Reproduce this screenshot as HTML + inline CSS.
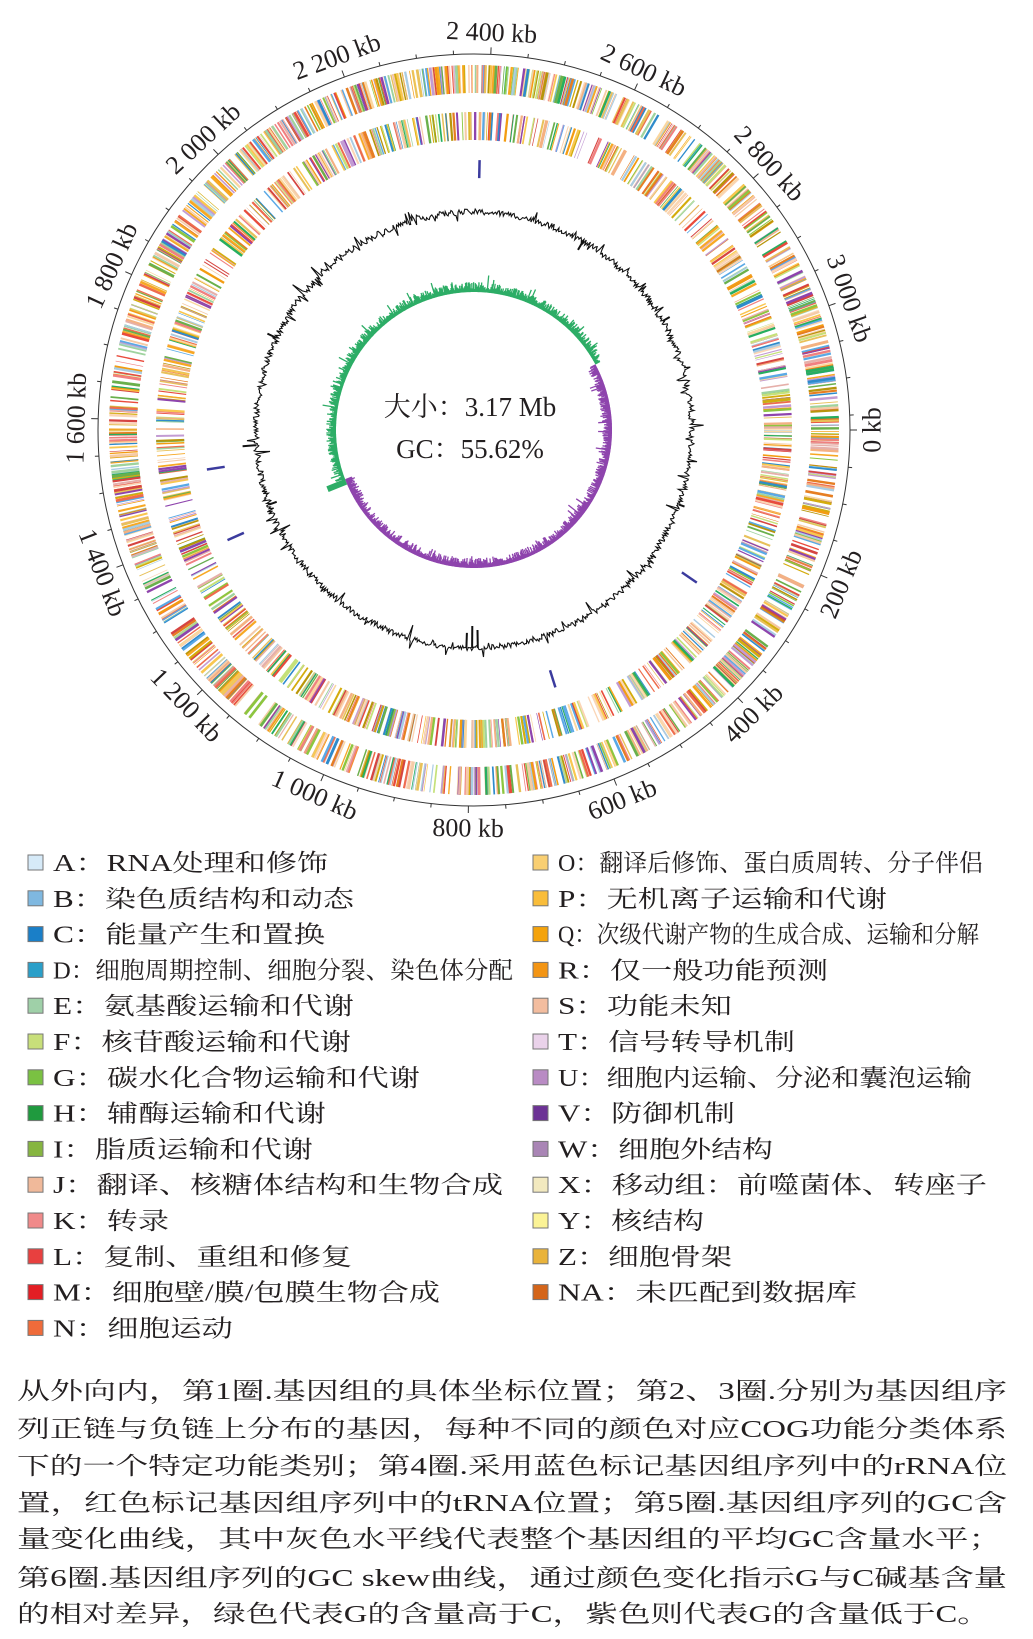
<!DOCTYPE html>
<html><head><meta charset="utf-8">
<style>
html,body{margin:0;padding:0;background:#fff;}
svg{display:block;}
text{font-family:"Liberation Serif","Noto Serif CJK SC",serif;fill:#231f20;}
</style></head>
<body>
<svg id="s" width="1033" height="1639" viewBox="0 0 1033 1639" xmlns="http://www.w3.org/2000/svg">
<g id="rings"></g>
<circle cx="474" cy="430" r="376" fill="none" stroke="#333" stroke-width="1"/>
<g id="ticks"></g>
<g id="labels" font-size="26"></g>
<text x="470" y="416" font-size="27" text-anchor="middle">大小：3.17 Mb</text>
<text x="470" y="458" font-size="27" text-anchor="middle">GC：55.62%</text>

<g font-size="24" id="legend"></g>

<g font-size="24">
<text x="17" y="1399" textLength="990" lengthAdjust="spacingAndGlyphs">从外向内，第1圈.基因组的具体坐标位置；第2、3圈.分别为基因组序</text>
<text x="17" y="1437" textLength="990" lengthAdjust="spacingAndGlyphs">列正链与负链上分布的基因，每种不同的颜色对应COG功能分类体系</text>
<text x="17" y="1474" textLength="990" lengthAdjust="spacingAndGlyphs">下的一个特定功能类别；第4圈.采用蓝色标记基因组序列中的rRNA位</text>
<text x="17" y="1511" textLength="990" lengthAdjust="spacingAndGlyphs">置，红色标记基因组序列中的tRNA位置；第5圈.基因组序列的GC含</text>
<text x="17" y="1547" textLength="985" lengthAdjust="spacingAndGlyphs">量变化曲线，其中灰色水平线代表整个基因组的平均GC含量水平；</text>
<text x="17" y="1586" textLength="990" lengthAdjust="spacingAndGlyphs">第6圈.基因组序列的GC skew曲线，通过颜色变化指示G与C碱基含量</text>
<text x="17" y="1622" textLength="973" lengthAdjust="spacingAndGlyphs">的相对差异，绿色代表G的含量高于C，紫色则代表G的含量低于C。</text>
</g>
</svg>
<script>
(function(){
var NS="http://www.w3.org/2000/svg",cx=474,cy=430,TOT=3170;
function el(t,a,p){var e=document.createElementNS(NS,t);for(var k in a)e.setAttribute(k,a[k]);(p||document.getElementById('rings')).appendChild(e);return e;}
var seed=12345;function rnd(){seed=(seed*1103515245+12345)&0x7fffffff;return seed/0x7fffffff;}
function pt(a,r){var t=a*Math.PI/180;return [cx+r*Math.cos(t),cy+r*Math.sin(t)];}
function rad(a,r1,r2,col,w,p){var A=pt(a,r1),B=pt(a,r2);el('line',{x1:A[0].toFixed(1),y1:A[1].toFixed(1),x2:B[0].toFixed(1),y2:B[1].toFixed(1),stroke:col,'stroke-width':w},p);}
var pal=['#f7a823','#f9c74f','#e8c15a','#8dc63f','#6ab04c','#e94b3c','#f08080','#d64541','#f4b183','#fbd5b5','#9fd39f','#c5e17a','#2e8bcc','#5aa9e6','#8e44ad','#c39bd3','#e67e22','#f39c12','#d4ac0d','#e6b0aa','#b7950b','#27ae60','#f5cba7','#ee6c4d','#fad7a0','#a9cce3'];
for(var i=0;i<1300;i++){var a=rnd()*360;rad(a,337,365,pal[Math.floor(rnd()*pal.length)],(0.6+rnd()*2.2).toFixed(1));}
for(var i=0;i<950;i++){var a=rnd()*360;rad(a,290,318,pal[Math.floor(rnd()*pal.length)],(0.5+rnd()*2).toFixed(1));}
[2388,1511,1373,303,638].forEach(function(k){rad(k/TOT*360,252,270,'#3b3b9e',2.5);});
var g=document.createElementNS(NS,'g');document.getElementById('rings').appendChild(g);
var d='';for(var a=0;a<360;a+=0.3){var v=(rnd()-0.5)*6;if(rnd()<0.07)v+=(rnd()-0.5)*24;var p=pt(a,218+v);d+=(a==0?'M':'L')+p[0].toFixed(1)+' '+p[1].toFixed(1);}
el('path',{d:d+'Z',fill:'none',stroke:'#111','stroke-width':1.1},g);
[[90.5,-22],[89,-18],[92,-15],[176,14],[160,-8],[300,-10],[330,8],[20,6],[205,10]].forEach(function(s){rad(s[0],218,218+s[1],'#111',2,g);});
for(var a=0;a<360;a+=0.35){var kb=a/360*TOT;var green=(kb>1400&&kb<2920);var m=3+rnd()*7;if(rnd()<0.06)m+=rnd()*8;
 if(green)rad(a,138,138+m,'#2dad66',1.3);else rad(a,138,138-m,'#8e44ad',1.3);}
rad(158,138,158,'#2dad66',6);
var tg=document.getElementById('ticks');
for(var k=0;k<TOT;k+=50){var a=k/TOT*360;rad(a,376,(k%200==0)?383:380,'#333',1,tg);}
var lg=document.getElementById('labels');
var labs={0:'0 kb',200:'200 kb',400:'400 kb',600:'600 kb',800:'800 kb',1000:'1 000 kb',1200:'1 200 kb',1400:'1 400 kb',1600:'1 600 kb',1800:'1 800 kb',2000:'2 000 kb',2200:'2 200 kb',2400:'2 400 kb',2600:'2 600 kb',2800:'2 800 kb',3000:'3 000 kb'};
for(var k in labs){var a=k/TOT*360;var p=pt(a,398);var rot=(a<180)?a-90:a+90;
 var t=el('text',{x:p[0].toFixed(1),y:p[1].toFixed(1),'text-anchor':'middle','dominant-baseline':'central',transform:'rotate('+rot.toFixed(1)+' '+p[0].toFixed(1)+' '+p[1].toFixed(1)+')'},lg);t.textContent=labs[k];}
var L=[['#d6eaf8','A：RNA处理和修饰',328],['#7fb8e0','B：染色质结构和动态',354],['#1a7fc8','C：能量产生和置换',325],['#2a9fc9','D：细胞周期控制、细胞分裂、染色体分配',513],['#9fd0a8','E：氨基酸运输和代谢',354],['#c8df7a','F：核苷酸运输和代谢',351],['#7ac142','G：碳水化合物运输和代谢',420],['#1f9a3e','H：辅酶运输和代谢',326],['#86b540','I：脂质运输和代谢',313],['#f0b99a','J：翻译、核糖体结构和生物合成',503],['#f08a8a','K：转录',169],['#e8403f','L：复制、重组和修复',352],['#e31e24','M：细胞壁/膜/包膜生物合成',440],['#ef6b3a','N：细胞运动',233]];
var R=[['#f9cf72','O：翻译后修饰、蛋白质周转、分子伴侣',983],['#f9bd3a','P：无机离子运输和代谢',887],['#f4a30c','Q：次级代谢产物的生成合成、运输和分解',979],['#f39514','R：仅一般功能预测',828],['#f3bd9f','S：功能未知',732],['#ead2ea','T：信号转导机制',795],['#b98bc4','U：细胞内运输、分泌和囊泡运输',972],['#6c3295','V：防御机制',735],['#a985b5','W：细胞外结构',773],['#f2e9bf','X：移动组：前噬菌体、转座子',987],['#fbf396','Y：核结构',704],['#e9b33b','Z：细胞骨架',732],['#d4651a','NA：未匹配到数据库',857]];
var leg=document.getElementById('legend');
function row(c,txt,end,x0,y){el('rect',{x:x0,y:y-8,width:15,height:15,fill:c,stroke:'#777','stroke-width':1},leg);
 var t=el('text',{x:x0+25,y:y+8,textLength:end-(x0+25),lengthAdjust:'spacingAndGlyphs'},leg);t.textContent=txt;}
L.forEach(function(r,i){row(r[0],r[1],r[2],28,863+35.8*i);});
R.forEach(function(r,i){row(r[0],r[1],r[2],533,863+35.8*i);});
})();
</script>
</body></html>
